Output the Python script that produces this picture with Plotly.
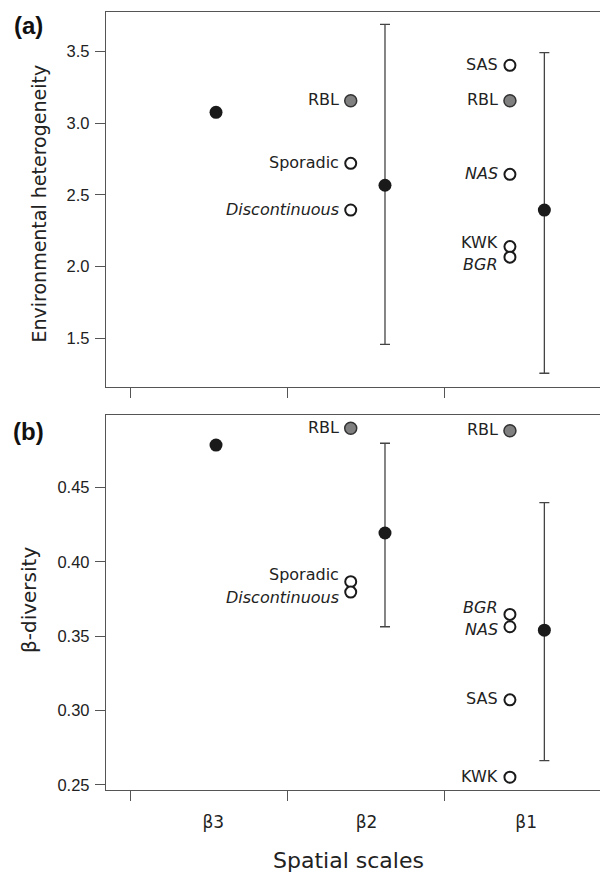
import plotly.graph_objects as go

# ---------------- data ----------------
scales = ["β3", "β2", "β1"]

# panel (a) Environmental heterogeneity
env_mean = [3.077, 2.568, 2.395]
env_low = [None, 1.458, 1.256]
env_high = [None, 3.691, 3.493]
env_cat_scale = ["β2", "β2", "β2", "β1", "β1", "β1", "β1", "β1"]
env_cat_name = ["RBL", "Sporadic", "Discontinuous", "SAS", "RBL", "NAS", "KWK", "BGR"]
env_cat_val = [3.158, 2.721, 2.395, 3.405, 3.158, 2.644, 2.140, 2.066]

# panel (b) beta-diversity
beta_mean = [0.4784, 0.4193, 0.3540]
beta_low = [None, 0.3563, 0.2663]
beta_high = [None, 0.4796, 0.4397]
beta_cat_scale = ["β2", "β2", "β2", "β1", "β1", "β1", "β1", "β1"]
beta_cat_name = ["RBL", "Sporadic", "Discontinuous", "RBL", "BGR", "NAS", "SAS", "KWK"]
beta_cat_val = [0.4897, 0.3866, 0.3796, 0.4880, 0.3646, 0.3563, 0.3072, 0.2552]

env_ticks = [1.5, 2.0, 2.5, 3.0, 3.5]
beta_ticks = [0.25, 0.30, 0.35, 0.40, 0.45]

# ---------------- layout helpers (positions / styles) ----------------
italic_names = {"Discontinuous", "NAS", "BGR"}
highlight_names = {"RBL"}
mean_pos = {"β3": 1.547, "β2": 2.622, "β1": 3.636}
cat_pos = {"β2": 2.404, "β1": 3.417}
label_pos = [1.53, 2.505, 3.52]
tick_pos = [1, 2, 3]
x_range = [0.847, 3.99]
# small vertical nudges (px) so labels of nearly coincident points don't collide
env_label_shift = {("β1", "KWK"): 3, ("β1", "BGR"): -8}
beta_label_shift = {("β2", "Sporadic"): 6, ("β2", "Discontinuous"): -6,
                    ("β1", "BGR"): 6, ("β1", "NAS"): -4}

LINE = "#555555"
TXT = "#222222"
LABEL_FONT = "DejaVu Sans"

fig = go.Figure()


def add_panel(xa, ya, means, lows, highs, c_scale, c_name, c_val, shifts):
    open_x, open_y, gray_x, gray_y = [], [], [], []
    for s, n, v in zip(c_scale, c_name, c_val):
        if n in highlight_names:
            gray_x.append(cat_pos[s]); gray_y.append(v)
        else:
            open_x.append(cat_pos[s]); open_y.append(v)
        txt = f"<i>{n}</i>" if n in italic_names else n
        fig.add_annotation(x=cat_pos[s], y=v, xref=xa, yref=ya, text=txt,
                           showarrow=False, xanchor="right", yanchor="middle",
                           xshift=-10, yshift=shifts.get((s, n), 0) + 1,
                           font=dict(family=LABEL_FONT, size=16, color=TXT))
    fig.add_trace(go.Scatter(x=open_x, y=open_y, xaxis=xa, yaxis=ya, mode="markers",
                             marker=dict(size=11, color="white",
                                         line=dict(color="#1a1a1a", width=2)),
                             showlegend=False, hoverinfo="skip"))
    fig.add_trace(go.Scatter(x=gray_x, y=gray_y, xaxis=xa, yaxis=ya, mode="markers",
                             marker=dict(size=12, color="#808080",
                                         line=dict(color="#333333", width=1.5)),
                             showlegend=False, hoverinfo="skip"))
    mx = [mean_pos[s] for s in scales]
    up = [None if h is None else h - m for m, h in zip(means, highs)]
    dn = [None if l is None else m - l for m, l in zip(means, lows)]
    fig.add_trace(go.Scatter(x=mx, y=means, xaxis=xa, yaxis=ya, mode="markers",
                             marker=dict(size=13, color="#1a1a1a"),
                             error_y=dict(type="data", symmetric=False, array=up,
                                          arrayminus=dn, color="#444444",
                                          thickness=1.3, width=5),
                             showlegend=False, hoverinfo="skip"))


add_panel("x", "y", env_mean, env_low, env_high, env_cat_scale, env_cat_name,
          env_cat_val, env_label_shift)
add_panel("x2", "y2", beta_mean, beta_low, beta_high, beta_cat_scale, beta_cat_name,
          beta_cat_val, beta_label_shift)

# invisible trace for the label-only axis
fig.add_trace(go.Scatter(x=[label_pos[0]], y=[beta_ticks[0]], xaxis="x3", yaxis="y2",
                         mode="markers", marker=dict(opacity=0), showlegend=False,
                         hoverinfo="skip"))

xcommon = dict(range=x_range, tickvals=tick_pos, showticklabels=False,
               ticks="outside", ticklen=10, tickwidth=1.2, tickcolor=LINE,
               showline=True, mirror=True, linecolor=LINE, linewidth=1.3,
               showgrid=False, zeroline=False)
ycommon = dict(ticks="outside", ticklen=10, tickwidth=1.2, tickcolor=LINE,
               showline=True, mirror=False, linecolor=LINE, linewidth=1.3,
               showgrid=False, zeroline=False, ticklabelstandoff=2,
               tickfont=dict(family="Liberation Sans", size=16.5, color=TXT))

fig.update_layout(
    width=600, height=873,
    margin=dict(l=106, r=0, t=12, b=83),
    plot_bgcolor="white", paper_bgcolor="white",
    xaxis=dict(domain=[0, 1], anchor="y", **xcommon),
    yaxis=dict(domain=[0.518, 1], anchor="x", range=[1.16, 3.777],
               tickvals=env_ticks, ticktext=[f"{t:.1f}" for t in env_ticks], **ycommon),
    xaxis2=dict(domain=[0, 1], anchor="y2", **xcommon),
    yaxis2=dict(domain=[0, 0.482], anchor="x2", range=[0.2466, 0.4986],
                tickvals=beta_ticks, ticktext=[f"{t:.2f}" for t in beta_ticks], **ycommon),
    xaxis3=dict(overlaying="x2", anchor="y2", side="bottom", range=x_range,
                tickvals=label_pos, ticktext=scales, ticks="", showline=False,
                showgrid=False, zeroline=False, ticklabelstandoff=20,
                tickfont=dict(family=LABEL_FONT, size=17, color=TXT)),
)

H = 778.0
W = 494.0
def px_to_paper(xp, yp):
    return (xp - 106) / W, (790 - yp) / H

ax, ay = px_to_paper(38.5, 204)
fig.add_annotation(x=ax, y=ay, xref="paper", yref="paper", text="Environmental heterogeneity",
                   textangle=-90, showarrow=False, xanchor="center", yanchor="middle",
                   font=dict(family=LABEL_FONT, size=19, color=TXT))
bx, by = px_to_paper(29, 600)
fig.add_annotation(x=bx, y=by, xref="paper", yref="paper", text="β-diversity",
                   textangle=-90, showarrow=False, xanchor="center", yanchor="middle",
                   font=dict(family=LABEL_FONT, size=20, color=TXT))
sx, sy = px_to_paper(348, 860)
fig.add_annotation(x=sx, y=sy, xref="paper", yref="paper", text="Spatial scales",
                   showarrow=False, xanchor="center", yanchor="middle",
                   font=dict(family=LABEL_FONT, size=22, color=TXT))
for letter, yc in (("(a)", 25), ("(b)", 431)):
    lx, ly = px_to_paper(28, yc)
    fig.add_annotation(x=lx, y=ly, xref="paper", yref="paper", text=f"<b>{letter}</b>",
                       showarrow=False, xanchor="center", yanchor="middle",
                       font=dict(family="Liberation Sans", size=24, color="#111111"))

fig.write_html("out.html", config={"displayModeBar": False},
               post_script="document.body.style.margin='0';")
